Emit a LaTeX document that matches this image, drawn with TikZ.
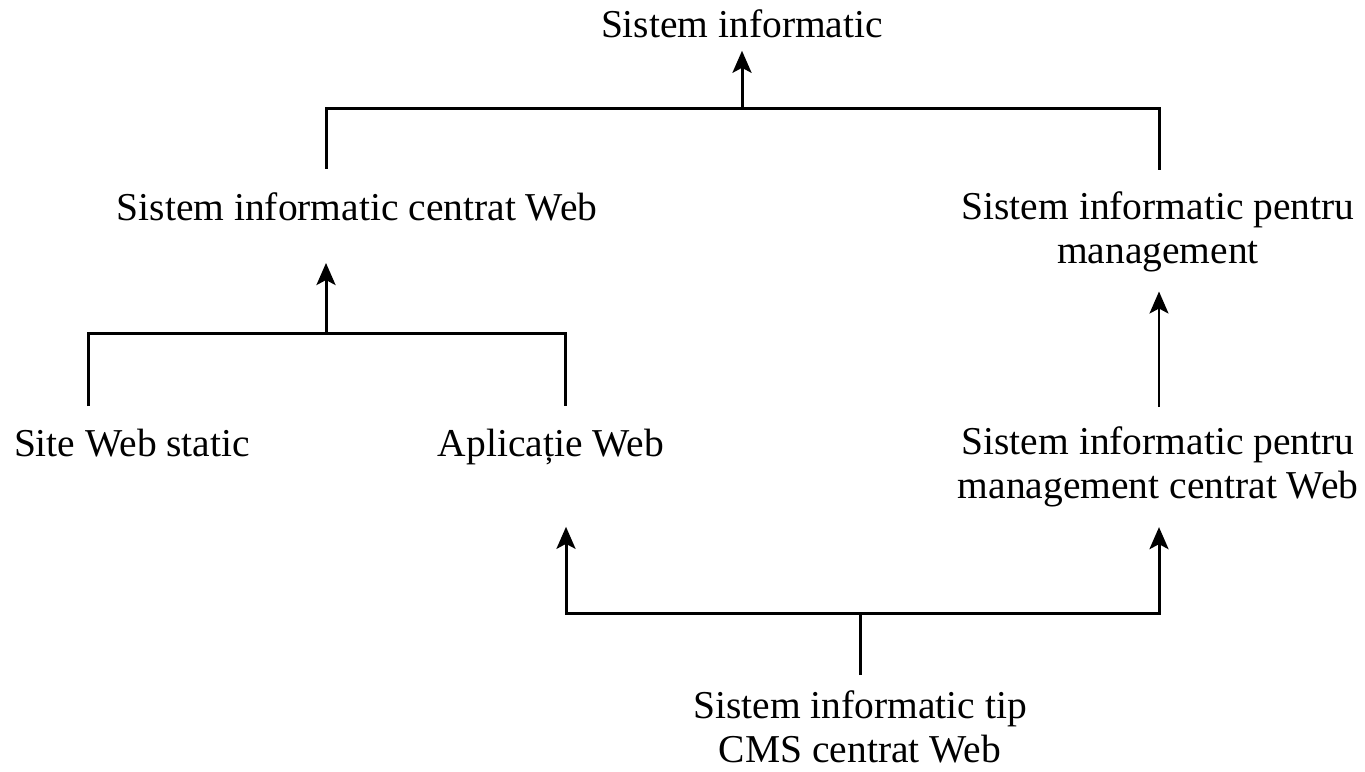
\documentclass[tikz,border=0pt]{standalone}
\usepackage{fontspec}
\setmainfont{Liberation Serif}
\usetikzlibrary{arrows.meta}
\tikzset{
  txt/.style={inner sep=0pt, align=center, font=\fontsize{19.75}{22}\selectfont},
  bus/.style={line width=1.5pt},
  arr/.style={line width=1.5pt, -{Stealth[length=11pt,width=9.5pt,inset=2.5pt]}}
}
\begin{document}
\begin{tikzpicture}[x=0.5pt,y=-0.5pt]
\useasboundingbox (0,0) rectangle (1365,771);
% text nodes
\node[txt,anchor=base] (si) at (742,38) {Sistem informatic};
\node[txt,anchor=base] (ciw) at (357,220) {Sistem informatic centrat Web};
\node[txt,anchor=north] (sim) at (1158,191) {Sistem informatic pentru\\management};
\node[txt,anchor=base] (sws) at (132,456) {Site Web static};
\node[txt,anchor=base] (aw) at (551,456) {Aplicație Web};
\node[txt,anchor=north] (simw) at (1158,426) {Sistem informatic pentru\\management centrat Web};
\node[txt,anchor=north] (cms) at (860,690) {Sistem informatic tip\\CMS centrat Web};
% junctions
\coordinate (j0) at (742,108);
\coordinate (j2) at (326,333);
\coordinate (j3) at (860,613);
% top level
\draw[arr, shorten >=6pt] (j0) -- (si);
\draw[bus, shorten <=11.5pt, shorten >=10.5pt] (ciw.north -| 326,0) |- (j0) -| (sim.north -| 1159,0);
% left branch
\draw[arr, shorten >=21pt] (j2) -- (ciw.south -| j2);
\draw[bus, shorten <=11pt, shorten >=11pt] (sws.north -| 88,0) |- (j2) -| (aw.north -| 565,0);
% right branch
\draw[arr, line width=1.1pt, shorten <=9.5pt, shorten >=9.7pt] (simw.north -| 1159,0) -- (sim.south -| 1159,0);
% bottom
\draw[bus, shorten <=7.5pt] (cms.north) -- (j3);
\draw[arr, shorten >=31pt] (j3) -| (aw.south -| 566,0);
\draw[arr, shorten >=10pt] (j3) -| (simw.south -| 1159,0);
\end{tikzpicture}
\end{document}
